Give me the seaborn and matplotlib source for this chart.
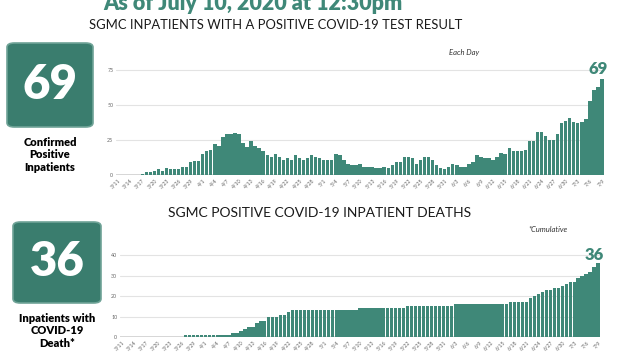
import pandas as pd
import matplotlib.pyplot as plt
import seaborn as sns
from matplotlib.patches import FancyBboxPatch

# daily dates 3/11 .. 7/9
dates = pd.date_range('2020-03-11', '2020-07-09', freq='D')
day_labels = [f"{d.month}/{d.day}" for d in dates]

# inpatients with a positive test, each day
inpatients = [0, 0, 0, 0, 0, 0,
              1, 2, 2, 3, 4, 3, 5, 4, 4, 4, 6, 6, 9, 10, 10, 15, 17, 18, 22, 21, 27, 29, 29,
              30, 29, 23, 20, 24, 21, 19, 17, 14, 13, 15, 13, 11, 12, 11, 14, 12, 11, 12, 14,
              13, 12, 11, 11, 11, 15, 14, 11, 8, 7, 7,
              8, 6, 6, 6, 5, 5, 6, 5, 7, 9, 9, 13, 13, 12, 8, 11, 13, 13, 11, 7, 5, 4, 6, 8,
              7, 6, 6, 8, 9, 14, 13,
              12, 12, 11, 13, 16, 15, 19, 17, 17, 17, 18, 24, 24, 31, 31, 28, 25, 25, 29, 37,
              39, 41, 38, 37, 38, 40, 53, 61, 63, 69]

# cumulative inpatient deaths
deaths = ([0] * 16 + [1] * 12 + [2, 2, 3, 4, 5, 5, 7, 8, 8, 10, 10, 10, 11, 11, 12]
          + [13] * 17 + [14] * 12 + [15] * 12 + [16] * 14 + [17] * 5
          + [19, 20, 21, 22, 23, 23, 24, 24, 25, 26, 27, 27, 29, 30, 31, 32, 34, 36])

df = pd.DataFrame({'day': day_labels, 'inpatients': inpatients, 'deaths': deaths})

teal = '#3f8878'
box_teal = '#3a7d6e'
grey_txt = '#666666'

sns.set_style('white')
plt.rcParams['font.family'] = ['Lato', 'DejaVu Sans']

fig = plt.figure(figsize=(6.21, 3.52), dpi=100)
W, H = 621, 352


def px_axes(left, top, right, bottom):
    return fig.add_axes([left / W, 1 - bottom / H, (right - left) / W, (bottom - top) / H])


def style_axes(ax, ymax, yticks):
    ax.set_ylim(0, ymax)
    ax.set_xlim(-0.5, len(df) - 0.5)
    ax.set_yticks(yticks)
    ax.yaxis.grid(True, color='#e3e3e3', lw=0.8)
    ax.set_axisbelow(True)
    ax.axhline(0, color='#cfcfcf', lw=1.2, zorder=0.5)
    sns.despine(ax=ax, left=True, bottom=True)
    ax.set_xticks(range(0, len(df), 3))
    ax.set_xticklabels(day_labels[::3], rotation=45, ha='right', rotation_mode='anchor')
    ax.tick_params(axis='both', labelsize=3.8, colors=grey_txt, length=0, pad=2)
    ax.set_xlabel('')
    ax.set_ylabel('')


# top chart
ax1 = px_axes(116, 66, 604, 175)
sns.barplot(data=df, x='day', y='inpatients', color=teal, width=0.85,
            saturation=1, edgecolor='none', ax=ax1)
style_axes(ax1, 78, [0, 25, 50, 75])
ax1.text(len(df) - 2, 70, '69', color=teal, fontsize=12, fontweight='heavy',
         ha='center', va='bottom')

# bottom chart
ax2 = px_axes(120, 245, 600, 337)
sns.barplot(data=df, x='day', y='deaths', color=teal, width=0.85,
            saturation=1, edgecolor='none', ax=ax2)
style_axes(ax2, 45, [0, 10, 20, 30, 40])
ax2.text(len(df) - 2, 36.3, '36', color=teal, fontsize=12, fontweight='heavy',
         ha='center', va='bottom')

# headings (top line is cut by the image edge, as in the source graphic)
fig.text(253 / W, 1 - 10 / H, 'As of July 10, 2020 at 12:30pm', color=teal,
         fontsize=15.5, fontweight='heavy', ha='center', va='baseline')
fig.text(276 / W, 1 - 25 / H, 'SGMC INPATIENTS WITH A POSITIVE COVID-19 TEST RESULT',
         fontsize=9.4, fontweight='normal', ha='center', va='center', color='#1a1a1a')
fig.text(464 / W, 1 - 53 / H, 'Each Day', fontsize=5.5, style='italic',
         ha='center', va='center', color='#333333')
fig.text(320 / W, 1 - 213 / H, 'SGMC POSITIVE COVID-19 INPATIENT DEATHS',
         fontsize=10, fontweight='normal', ha='center', va='center', color='#1a1a1a')
fig.text(548 / W, 1 - 229 / H, '*Cumulative', fontsize=5.5, style='italic',
         ha='center', va='center', color='#333333')

# left number boxes
for (x0, y0, x1, y1, num, label) in [
        (7, 43, 93, 127, '69', 'Confirmed\nPositive\nInpatients'),
        (13, 222, 101, 303, '36', 'Inpatients with\nCOVID-19\nDeath*')]:
    box = FancyBboxPatch((x0 / W, 1 - y1 / H), (x1 - x0) / W, (y1 - y0) / H,
                         boxstyle='round,pad=0,rounding_size=0.012',
                         transform=fig.transFigure, facecolor=box_teal,
                         edgecolor='#6fa397', lw=1.2)
    fig.add_artist(box)
    cx = (x0 + x1) / 2
    fig.text(cx / W, 1 - (y0 + y1) / 2 / H, num, color='white', fontsize=34,
             fontweight='heavy', ha='center', va='center')
    fig.text(cx / W, 1 - (y1 + 10) / H, label, color='black', fontsize=8,
             fontweight='heavy', ha='center', va='top', linespacing=1.15)

fig.savefig('out.png', dpi=100)
